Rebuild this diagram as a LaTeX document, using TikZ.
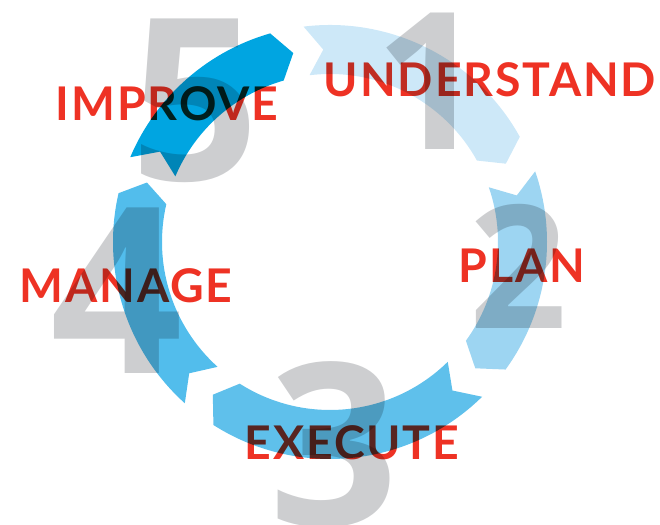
\documentclass[tikz,border=0pt]{standalone}
\usepackage{fontspec}
\newfontfamily\labelfont{Lato}[LetterSpace=4]
\newfontfamily\digitfont{Open Sans}
\definecolor{numgrey}{RGB}{205,206,208}
\definecolor{stagered}{RGB}{238,50,36}
\definecolor{segone}{RGB}{205,232,248}
\definecolor{segtwo}{RGB}{157,213,242}
\definecolor{segthree}{RGB}{95,192,235}
\definecolor{segfour}{RGB}{82,189,236}
\definecolor{segfive}{RGB}{0,165,225}
% ring segment: tail angle, head angle (clockwise)
\newcommand{\ringseg}[2]{(#1:217) arc[start angle=#1, end angle=#2, radius=217] -- ({#2-5}:192.5) -- (#2:168) arc[start angle=#2, end angle=#1, radius=168] -- ({#1-5}:192.5) -- cycle}

\begin{document}
\begin{tikzpicture}[
  x=0.025cm, y=0.025cm,
  digit/.style={text=numgrey, inner sep=0pt, font=\digitfont\bfseries\fontsize{#1}{#1}\selectfont},
  stage/.style={text=stagered, inner sep=0pt, font=\labelfont\bfseries\fontsize{33}{33}\selectfont}
]
\useasboundingbox (0,0) rectangle (660,525);

% big numbers behind the ring
\node[digit=136] (num1) at (430,443.5) {1};
\node[digit=122] (num2) at (518,258.5) {2};
\node[digit=161] (num3) at (334,80.5) {3};
\node[digit=165] (num4) at (117,234) {4};
\node[digit=161] (num5) at (195,424) {5};

\begin{scope}[blend mode=multiply]
  \begin{scope}[shift={(330,283)}]
    \fill[segone] \ringseg{97}{29};
    \fill[segtwo] \ringseg{19}{-36};
    \fill[segthree] \ringseg{-45.5}{-122.5};
    \fill[segfour] \ringseg{228}{167};
    \fill[segfive] \ringseg{157}{106};
  \end{scope}

  \node[stage] (understand) at (490,445) {UNDERSTAND};
  \node[stage] (plan) at (522,259) {PLAN};
  \node[stage] (execute) at (352,82) {EXECUTE};
  \node[stage] (manage) at (126,239) {MANAGE};
  \node[stage] (improve) at (167,421) {IMPROVE};
\end{scope}

\end{tikzpicture}
\end{document}
